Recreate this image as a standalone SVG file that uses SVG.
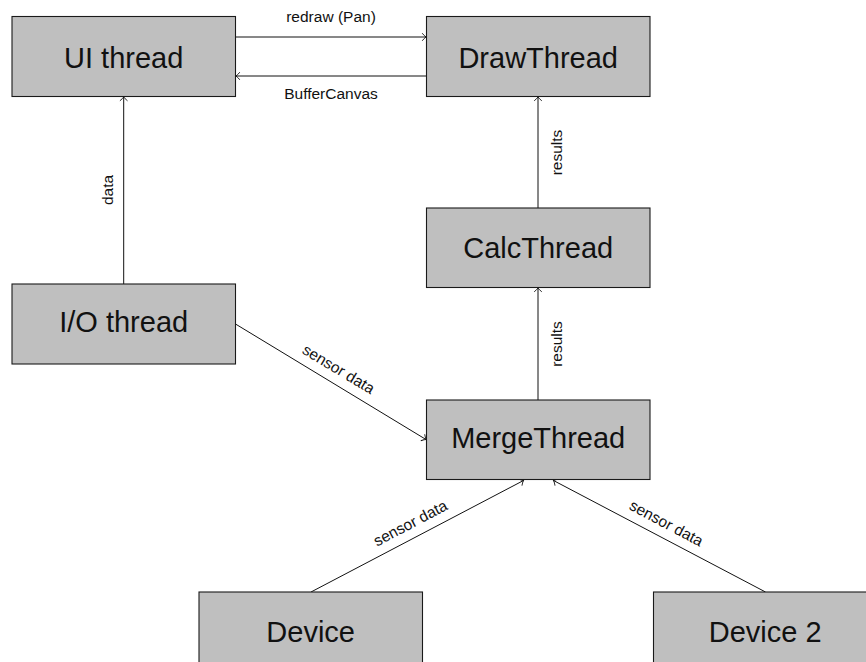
<svg xmlns="http://www.w3.org/2000/svg" width="866" height="662" viewBox="0 0 866 662">
<style>
.box{fill:#bfbfbf;stroke:#1a1a1a;stroke-width:1.1}
.nt{font-family:"Liberation Sans",Arial,sans-serif;font-size:29px;fill:#111;text-anchor:middle}
.lb{font-family:"Liberation Sans",Arial,sans-serif;font-size:15.5px;fill:#111;text-anchor:middle}
.ed{stroke:#111;stroke-width:1;fill:none;marker-end:url(#arr)}
</style>
<defs>
<marker id="arr" markerUnits="userSpaceOnUse" viewBox="-6 -6 8 12" markerWidth="8" markerHeight="12" refX="0" refY="0" orient="auto" overflow="visible">
<path d="M-3.8,-3.8 Q-1.5,-1 0,0 Q-1.5,1 -3.8,3.8" fill="none" stroke="#111" stroke-width="0.9"/>
</marker>
</defs>
<rect width="866" height="662" fill="#fff"/>
<g id="edges">
<line class="ed" x1="235.5" y1="37" x2="426" y2="37"/>
<line class="ed" x1="426.5" y1="76" x2="236" y2="76"/>
<line class="ed" x1="123.7" y1="284" x2="123.7" y2="97"/>
<line class="ed" x1="538" y1="208" x2="538" y2="97"/>
<line class="ed" x1="538" y1="400" x2="538" y2="288"/>
<line class="ed" x1="235.5" y1="324" x2="426" y2="439.5"/>
<line class="ed" x1="311" y1="592" x2="523.5" y2="480.5"/>
<line class="ed" x1="765.5" y1="592" x2="553.5" y2="480.5"/>
<text class="lb" x="331" y="21.5">redraw (Pan)</text>
<text class="lb" x="331" y="98.5">BufferCanvas</text>
<text class="lb" transform="translate(113.3,190) rotate(-90)">data</text>
<text class="lb" transform="translate(561.8,152.5) rotate(-90)">results</text>
<text class="lb" transform="translate(561.8,344) rotate(-90)">results</text>
<text class="lb" transform="translate(331,381.8) rotate(31.03) translate(0,-9.5)">sensor data</text>
<text class="lb" transform="translate(417.3,536.2) rotate(-27.8) translate(0,-9.5)">sensor data</text>
<text class="lb" transform="translate(659.5,536.2) rotate(27.9) translate(0,-9.5)">sensor data</text>
</g>
<g id="ui"><rect class="box" x="12" y="16.5" width="223.5" height="80"/><text class="nt" x="123.7" y="67.7">UI thread</text></g>
<g id="draw"><rect class="box" x="426.5" y="16.5" width="223.5" height="80"/><text class="nt" x="538.2" y="67.7">DrawThread</text></g>
<g id="calc"><rect class="box" x="426.5" y="208" width="223.5" height="79.5"/><text class="nt" x="538.2" y="258.3">CalcThread</text></g>
<g id="io"><rect class="box" x="12" y="284" width="223.5" height="80"/><text class="nt" x="123.7" y="331.7">I/O thread</text></g>
<g id="merge"><rect class="box" x="426.5" y="400" width="223.5" height="79.5"/><text class="nt" x="538.2" y="448.3">MergeThread</text></g>
<g id="device"><rect class="box" x="199" y="592" width="223.5" height="80"/><text class="nt" x="310.7" y="641.7">Device</text></g>
<g id="device2"><rect class="box" x="653.5" y="592" width="223.5" height="80"/><text class="nt" x="765.2" y="641.7">Device 2</text></g>
</svg>
